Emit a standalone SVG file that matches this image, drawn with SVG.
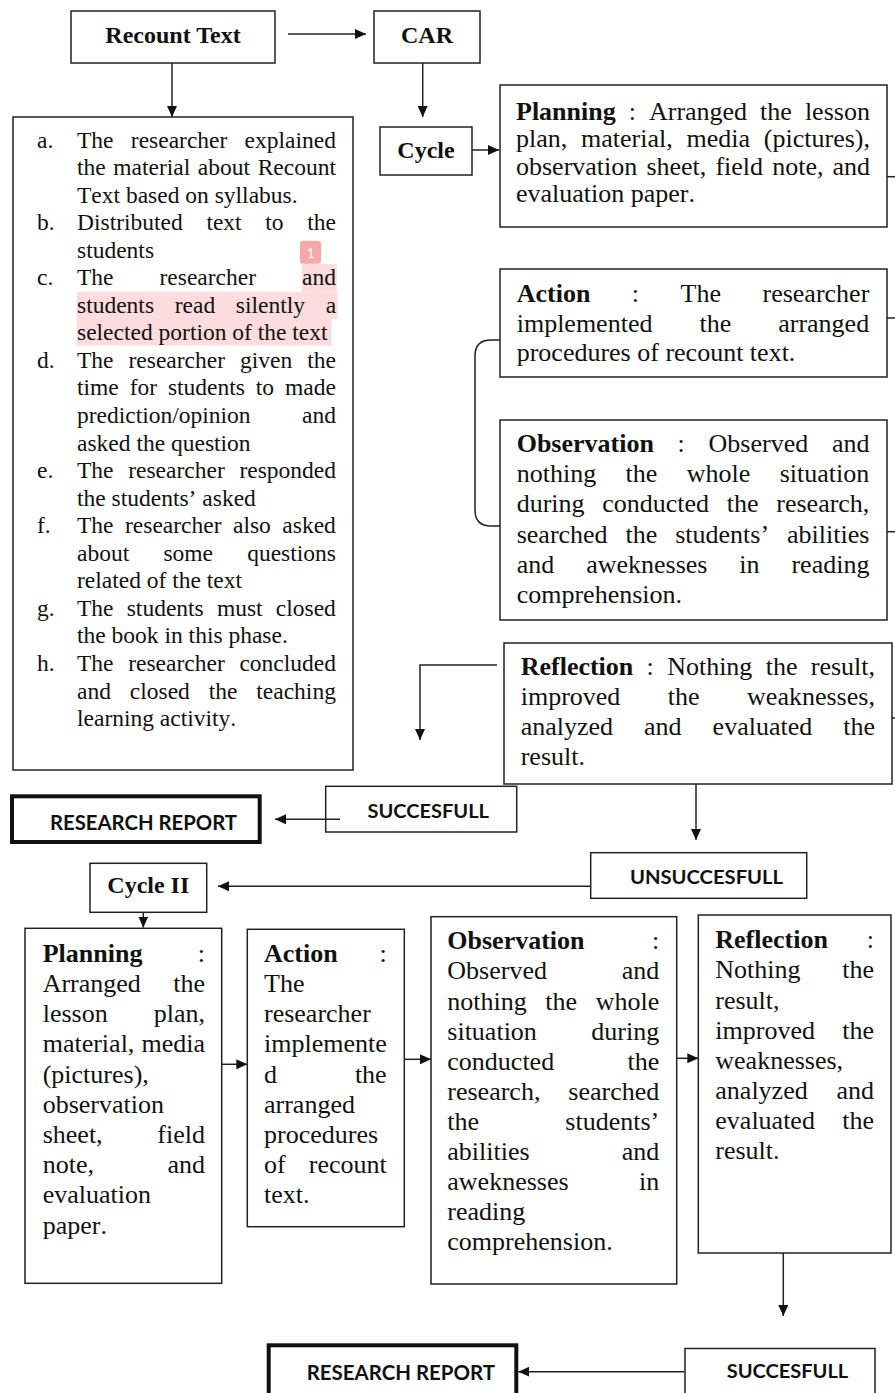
<svg xmlns="http://www.w3.org/2000/svg" width="895" height="1393" viewBox="0 0 895 1393">
<style>
.box{fill:#fff;stroke:#222;stroke-width:1.5}
.thick{fill:#fff;stroke:#111;stroke-width:4}
.t{font-family:"Liberation Serif","Times New Roman",serif;font-size:23.5px;fill:#111;font-kerning:none}
.r{font-family:"Liberation Serif","Times New Roman",serif;font-size:26px;fill:#111;font-kerning:none}
.lbl{font-family:"Liberation Serif","Times New Roman",serif;font-size:24px;font-weight:bold;fill:#111;text-anchor:middle}
.b{font-weight:bold}
.sans{font-family:Lato,"Open Sans",sans-serif;font-weight:700;fill:#111}
.hl{fill:#fcdcdc}
.conn line,.conn path{stroke:#222;stroke-width:1.5;fill:none}
</style>
<defs>
<marker id="ah" markerUnits="userSpaceOnUse" markerWidth="12" markerHeight="10" refX="11" refY="5" orient="auto">
<path d="M0,0 L11,5 L0,10 z" fill="#111"/>
</marker>
</defs>

<g id="recount-text">
<rect class="box" x="71" y="11" width="204" height="52"/>
<text class="lbl" x="173" y="42.5">Recount Text</text>
</g>

<g id="car">
<rect class="box" x="374" y="11" width="106" height="52"/>
<text class="lbl" x="427" y="42.5">CAR</text>
</g>

<g id="cycle">
<rect class="box" x="380" y="127" width="92" height="48"/>
<text class="lbl" x="426" y="158">Cycle</text>
</g>

<g id="steps-list">
<rect class="box" x="13" y="117" width="340" height="653"/>
<rect class="hl" x="301.7" y="264" width="35" height="27.7"/>
<rect class="hl" x="76.7" y="291.7" width="261" height="27.3"/>
<rect class="hl" x="76.7" y="319" width="255" height="26.7"/>
<rect x="300" y="240.7" width="21" height="23" rx="3" fill="#f6a9a9"/>
<text x="310.5" y="258" font-family="Lato,'Open Sans',sans-serif" font-size="14" fill="#fff" text-anchor="middle">1</text>
<text class="t" x="37" y="147.5">a.</text>
<text class="t" x="37" y="230.15">b.</text>
<text class="t" x="37" y="285.25">c.</text>
<text class="t" x="37" y="367.9">d.</text>
<text class="t" x="37" y="478.1">e.</text>
<text class="t" x="37" y="533.2">f.</text>
<text class="t" x="37" y="615.85">g.</text>
<text class="t" x="37" y="670.95">h.</text>
<text class="t" x="77" y="147.5" word-spacing="11.4">The researcher explained</text>
<text class="t" x="77" y="175.05" word-spacing="1.7">the material about Recount</text>
<text class="t" x="77" y="202.6">Text based on syllabus.</text>
<text class="t" x="77" y="230.15" word-spacing="17.8">Distributed text to the</text>
<text class="t" x="77" y="257.7">students</text>
<text class="t" x="77" y="285.25" word-spacing="40.1">The researcher and</text>
<text class="t" x="77" y="312.8" word-spacing="14.8">students read silently a</text>
<text class="t" x="77" y="340.35">selected portion of the text</text>
<text class="t" x="77" y="367.9" word-spacing="9.1">The researcher given the</text>
<text class="t" x="77" y="395.45" word-spacing="5">time for students to made</text>
<text class="t" x="77" y="423" word-spacing="45.5">prediction/opinion and</text>
<text class="t" x="77" y="450.55">asked the question</text>
<text class="t" x="77" y="478.1" word-spacing="8.8">The researcher responded</text>
<text class="t" x="77" y="505.65">the students’ asked</text>
<text class="t" x="77" y="533.2" word-spacing="5.6">The researcher also asked</text>
<text class="t" x="77" y="560.75" word-spacing="28.3">about some questions</text>
<text class="t" x="77" y="588.3">related of the text</text>
<text class="t" x="77" y="615.85" word-spacing="7.3">The students must closed</text>
<text class="t" x="77" y="643.4">the book in this phase.</text>
<text class="t" x="77" y="670.95" word-spacing="8.8">The researcher concluded</text>
<text class="t" x="77" y="698.5" word-spacing="13">and closed the teaching</text>
<text class="t" x="77" y="726.05">learning activity.</text>
</g>

<g id="planning">
<rect class="box" x="500" y="85" width="387" height="142"/>
<text class="r" x="516" y="119.5" word-spacing="6.5"><tspan class="b">Planning</tspan> : Arranged the lesson</text>
<text class="r" x="516" y="147" word-spacing="7.3">plan, material, media (pictures),</text>
<text class="r" x="516" y="174.5" word-spacing="2.6">observation sheet, field note, and</text>
<text class="r" x="516" y="202">evaluation paper.</text>
</g>

<g id="action">
<rect class="box" x="500" y="269" width="387" height="108"/>
<text class="r" x="516.7" y="302" word-spacing="35"><tspan class="b">Action</tspan> : The researcher</text>
<text class="r" x="516.7" y="331.5" word-spacing="40.5">implemented the arranged</text>
<text class="r" x="516.7" y="361">procedures of recount text.</text>
</g>

<g id="observation">
<rect class="box" x="500" y="420" width="387" height="200"/>
<text class="r" x="516.7" y="452" word-spacing="17.2"><tspan class="b">Observation</tspan> : Observed and</text>
<text class="r" x="516.7" y="482.2" word-spacing="22.9">nothing the whole situation</text>
<text class="r" x="516.7" y="512.4" word-spacing="11.2">during conducted the research,</text>
<text class="r" x="516.7" y="542.6" word-spacing="11.4">searched the students’ abilities</text>
<text class="r" x="516.7" y="572.8" word-spacing="25.4">and aweknesses in reading</text>
<text class="r" x="516.7" y="603">comprehension.</text>
</g>

<g id="reflection">
<rect class="box" x="504" y="643" width="388" height="141"/>
<text class="r" x="520.7" y="674.5" word-spacing="6.8"><tspan class="b">Reflection</tspan> : Nothing the result,</text>
<text class="r" x="520.7" y="704.5" word-spacing="41">improved the weaknesses,</text>
<text class="r" x="520.7" y="734.5" word-spacing="24.5">analyzed and evaluated the</text>
<text class="r" x="520.7" y="764.5">result.</text>
</g>

<g id="research-report-1">
<rect class="thick" x="12" y="796.3" width="247.7" height="45.7"/>
<text class="sans" x="50" y="830" font-size="20" textLength="187" lengthAdjust="spacingAndGlyphs">RESEARCH REPORT</text>
</g>

<g id="succesfull-1">
<rect class="box" x="325.7" y="786.3" width="191" height="45.7"/>
<text class="sans" x="367.4" y="817.5" font-size="18.5" textLength="121.6" lengthAdjust="spacingAndGlyphs">SUCCESFULL</text>
</g>

<g id="unsuccesfull">
<rect class="box" x="590.7" y="852.7" width="216" height="45.6"/>
<text class="sans" x="630" y="884" font-size="18.5" textLength="153" lengthAdjust="spacingAndGlyphs">UNSUCCESFULL</text>
</g>

<g id="cycle-2">
<rect class="box" x="90" y="863.3" width="116.7" height="49"/>
<text class="lbl" x="148.3" y="893">Cycle II</text>
</g>

<g id="planning-2">
<rect class="box" x="25" y="928.3" width="196.7" height="355"/>
<text class="r" x="42.7" y="961.7" word-spacing="48.9"><tspan class="b">Planning</tspan> :</text>
<text class="r" x="42.7" y="991.9" word-spacing="25.9">Arranged the</text>
<text class="r" x="42.7" y="1022.1" word-spacing="39.5">lesson plan,</text>
<text class="r" x="42.7" y="1052.3" word-spacing="0.6">material, media</text>
<text class="r" x="42.7" y="1082.5">(pictures),</text>
<text class="r" x="42.7" y="1112.7">observation</text>
<text class="r" x="42.7" y="1142.9" word-spacing="48.2">sheet, field</text>
<text class="r" x="42.7" y="1173.1" word-spacing="67">note, and</text>
<text class="r" x="42.7" y="1203.3">evaluation</text>
<text class="r" x="42.7" y="1233.5">paper.</text>
</g>

<g id="action-2">
<rect class="box" x="247.3" y="929.3" width="157" height="297.4"/>
<text class="r" x="264" y="961.7" word-spacing="35.3"><tspan class="b">Action</tspan> :</text>
<text class="r" x="264" y="991.9">The</text>
<text class="r" x="264" y="1022.1">researcher</text>
<text class="r" x="264" y="1052.3">implemente</text>
<text class="r" x="264" y="1082.5" word-spacing="71.4">d the</text>
<text class="r" x="264" y="1112.7">arranged</text>
<text class="r" x="264" y="1142.9">procedures</text>
<text class="r" x="264" y="1173.1" word-spacing="16.6">of recount</text>
<text class="r" x="264" y="1203.3">text.</text>
</g>

<g id="observation-2">
<rect class="box" x="431" y="916.7" width="245.7" height="367.3"/>
<text class="r" x="447.3" y="949.3" word-spacing="61"><tspan class="b">Observation</tspan> :</text>
<text class="r" x="447.3" y="979.4" word-spacing="68.3">Observed and</text>
<text class="r" x="447.3" y="1009.5" word-spacing="12.1">nothing the whole</text>
<text class="r" x="447.3" y="1039.6" word-spacing="48">situation during</text>
<text class="r" x="447.3" y="1069.7" word-spacing="66.9">conducted the</text>
<text class="r" x="447.3" y="1099.8" word-spacing="21.4">research, searched</text>
<text class="r" x="447.3" y="1129.9" word-spacing="79.8">the students’</text>
<text class="r" x="447.3" y="1160" word-spacing="85.6">abilities and</text>
<text class="r" x="447.3" y="1190.1" word-spacing="64">aweknesses in</text>
<text class="r" x="447.3" y="1220.2">reading</text>
<text class="r" x="447.3" y="1250.3">comprehension.</text>
</g>

<g id="reflection-2">
<rect class="box" x="698.3" y="915" width="192.7" height="338"/>
<text class="r" x="715.3" y="948.3" word-spacing="32.3"><tspan class="b">Reflection</tspan> :</text>
<text class="r" x="715.3" y="978.4" word-spacing="35.2">Nothing the</text>
<text class="r" x="715.3" y="1008.5">result,</text>
<text class="r" x="715.3" y="1038.6" word-spacing="20.8">improved the</text>
<text class="r" x="715.3" y="1068.7">weaknesses,</text>
<text class="r" x="715.3" y="1098.8" word-spacing="22.3">analyzed and</text>
<text class="r" x="715.3" y="1128.9" word-spacing="20.8">evaluated the</text>
<text class="r" x="715.3" y="1159">result.</text>
</g>

<g id="research-report-2">
<rect class="thick" x="268.7" y="1345.3" width="247.6" height="60"/>
<text class="sans" x="306.7" y="1380" font-size="20" textLength="188.3" lengthAdjust="spacingAndGlyphs">RESEARCH REPORT</text>
</g>

<g id="succesfull-2">
<rect class="box" x="685" y="1348.5" width="190" height="60"/>
<text class="sans" x="726.7" y="1378.3" font-size="18.5" textLength="121.6" lengthAdjust="spacingAndGlyphs">SUCCESFULL</text>
</g>

<g id="connectors" class="conn">
<line x1="288" y1="34" x2="366" y2="34" marker-end="url(#ah)"/>
<line x1="172" y1="63" x2="172" y2="117" marker-end="url(#ah)"/>
<line x1="422.7" y1="63" x2="422.7" y2="117" marker-end="url(#ah)"/>
<line x1="472" y1="150" x2="499" y2="150" marker-end="url(#ah)"/>
<line x1="887" y1="176.7" x2="895" y2="176.7"/>
<line x1="887" y1="318" x2="895" y2="318"/>
<line x1="887" y1="531.7" x2="895" y2="531.7"/>
<line x1="892" y1="718" x2="895" y2="718"/>
<path d="M500,340 H491 Q475,340 475,356 V510 Q475,526 491,526 H500"/>
<path d="M497,665 H420 V740" marker-end="url(#ah)"/>
<line x1="696" y1="784" x2="696" y2="840" marker-end="url(#ah)"/>
<line x1="340" y1="819.3" x2="275" y2="819.3" marker-end="url(#ah)"/>
<line x1="590.7" y1="886.3" x2="218" y2="886.3" marker-end="url(#ah)"/>
<line x1="143.3" y1="912.3" x2="143.3" y2="927.5" marker-end="url(#ah)"/>
<line x1="221.7" y1="1064.3" x2="247.3" y2="1064.3" marker-end="url(#ah)"/>
<line x1="404.3" y1="1059.3" x2="431" y2="1059.3" marker-end="url(#ah)"/>
<line x1="676.7" y1="1058.3" x2="698.3" y2="1058.3" marker-end="url(#ah)"/>
<line x1="783.3" y1="1253" x2="783.3" y2="1316" marker-end="url(#ah)"/>
<line x1="684" y1="1371.7" x2="518.3" y2="1371.7" marker-end="url(#ah)"/>
</g>
</svg>
